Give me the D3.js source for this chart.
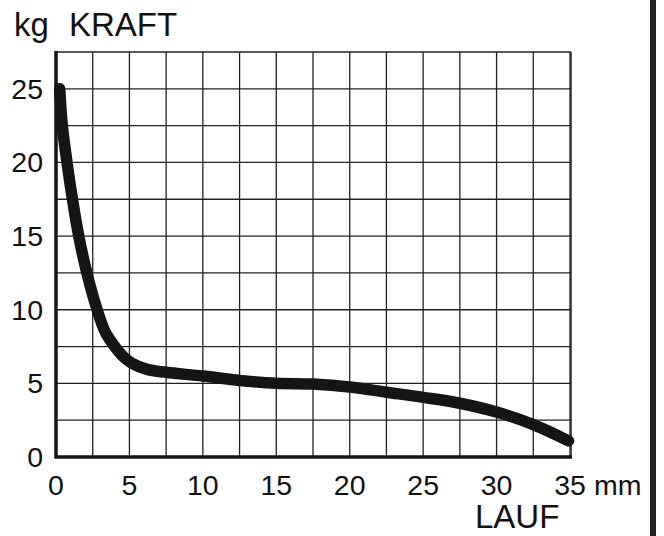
<!DOCTYPE html>
<html>
<head>
<meta charset="utf-8">
<script src="https://cdn.jsdelivr.net/npm/d3@7"></script>
<style>
  body { margin: 0; background: #fff; }
  text { font-family: "Liberation Sans", Arial, sans-serif; fill: #111; }
</style>
</head>
<body>
<div id="chart"></div>
<script>
// Kraft-Weg-Kurve, values
const lauf = [0.25, 0.43, 0.75, 1.12, 1.55, 2.1, 2.8, 3.35, 4.0, 4.6, 5.2, 6.2, 7.5, 10, 12.5, 15, 17.5, 20, 22.5, 25, 27.5, 30, 32.5, 34.9]
const kraft = [25, 22.5, 20, 17.5, 15, 12.5, 10, 8.5, 7.5, 6.8, 6.35, 5.95, 5.75, 5.5, 5.2, 5.0, 4.95, 4.75, 4.4, 4.05, 3.65, 3.05, 2.2, 1.1]
const xTicks = [0, 5, 10, 15, 20, 25, 30, 35]
const yTicks = [0, 5, 10, 15, 20, 25]
const xGrid = d3.range(0, 35.01, 2.5)
const yGrid = d3.range(0, 27.51, 2.5)

const width = 664
const height = 536
const pLeft = 56, pRight = 571, pTop = 52, pBottom = 457

const svg = d3.select('#chart').append('svg')
    .attr('width', width).attr('height', height)

const x = d3.scaleLinear().domain([0, 35]).range([pLeft, 570])
const y = d3.scaleLinear().domain([0, 27.5]).range([pBottom, pTop])

// grid
svg.append('g').selectAll('line').data(xGrid).enter().append('line')
    .attr('x1', d => x(d)).attr('x2', d => x(d))
    .attr('y1', pTop).attr('y2', pBottom)
    .attr('stroke', '#222').attr('stroke-width', 1.3)
svg.append('g').selectAll('line').data(yGrid).enter().append('line')
    .attr('x1', pLeft).attr('x2', pRight)
    .attr('y1', d => y(d)).attr('y2', d => y(d))
    .attr('stroke', '#222').attr('stroke-width', 1.3)
svg.append('line').attr('x1', pRight).attr('x2', pRight).attr('y1', pTop).attr('y2', pBottom)
    .attr('stroke', '#222').attr('stroke-width', 1.5)

// thick axes
svg.append('path')
    .attr('d', `M${pLeft},${pTop - 1}V${pBottom}H${pRight + 1}`)
    .attr('fill', 'none').attr('stroke', '#151515').attr('stroke-width', 3.5)

// curve
const pts = lauf.map((d, i) => [d, kraft[i]])
svg.append('path').datum(pts)
    .attr('d', d3.line().x(d => x(d[0])).y(d => y(d[1])).curve(d3.curveCatmullRom.alpha(0.5)))
    .attr('fill', 'none').attr('stroke', '#151515')
    .attr('stroke-width', 11.5).attr('stroke-linecap', 'round').attr('stroke-linejoin', 'round')

// tick labels
svg.append('g').selectAll('text').data(yTicks).enter().append('text')
    .attr('x', 43).attr('y', d => y(d) + 10)
    .attr('text-anchor', 'end').attr('font-size', 28.5)
    .text(d => d)
svg.append('g').selectAll('text').data(xTicks).enter().append('text')
    .attr('x', d => x(d)).attr('y', 495)
    .attr('text-anchor', 'middle').attr('font-size', 28.5)
    .text(d => d)
svg.append('text').attr('x', 594).attr('y', 495).attr('font-size', 28.5).text('mm')

svg.append('text').attr('x', 14).attr('y', 36).attr('font-size', 33).text('kg')
svg.append('text').attr('x', 69).attr('y', 36).attr('font-size', 33).text('KRAFT')
svg.append('text').attr('x', 475).attr('y', 528).attr('font-size', 33).text('LAUF')

// right edge bar
svg.append('rect').attr('x', 650).attr('y', 0).attr('width', 6).attr('height', height).attr('fill', '#222')
</script>
</body>
</html>
